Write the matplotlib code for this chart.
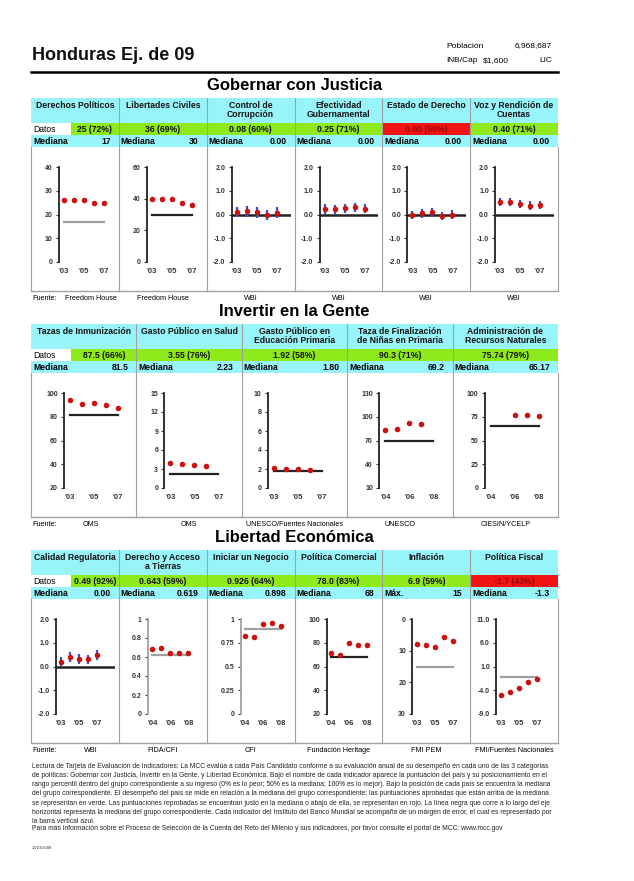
# coding:utf8
import matplotlib
matplotlib.use("Agg")
import matplotlib.pyplot as plt
from matplotlib.patches import Rectangle
from matplotlib.lines import Line2D

plt.rcParams['font.family'] = ['Liberation Sans', 'DejaVu Sans']

# ==============================
# Données : en-tête
# ==============================
pais = "Honduras Ej. de 09"
poblacion = "6,968,687"
inb_cap = "$1,600"
grupo = "LIC"

# ==============================
# Données : Gobernar con Justicia
# ==============================
gj_titulos = ["Derechos Políticos", "Libertades Civiles", "Control de\nCorrupción",
              "Efectividad\nGubernamental", "Estado de Derecho", "Voz y Rendición de\nCuentas"]
gj_datos = ["25 (72%)", "36 (69%)", "0.08 (60%)", "0.25 (71%)", "0.00 (50%)", "0.40 (71%)"]
gj_aprobado = [True, True, True, True, False, True]
gj_med_label = ["Mediana"] * 6
gj_med_txt = ["17", "30", "0.00", "0.00", "0.00", "0.00"]
gj_fuentes = ["Freedom House", "Freedom House", "WBI", "WBI", "WBI", "WBI"]
gj_anios = [[2003, 2004, 2005, 2006, 2007]] * 6
gj_valores = [[26, 26, 26, 25, 25],
              [40, 40, 40, 37, 36],
              [0.10, 0.13, 0.09, -0.02, 0.08],
              [0.23, 0.22, 0.26, 0.30, 0.25],
              [-0.02, 0.05, 0.09, -0.06, 0.00],
              [0.53, 0.53, 0.45, 0.37, 0.40]]
gj_error = [0, 0, 0.22, 0.2, 0.18, 0.18]
gj_mediana = [17, 30, 0, 0, 0, 0]
gj_ylim = [(0, 40), (0, 60), (-2, 2), (-2, 2), (-2, 2), (-2, 2)]
gj_yticks = [[0, 10, 20, 30, 40], [0, 20, 40, 60]] + [[-2, -1, 0, 1, 2]] * 4
gj_xticks = [[2003, 2005, 2007]] * 6

# ==============================
# Données : Invertir en la Gente
# ==============================
ig_titulos = ["Tazas de Inmunización", "Gasto Público en Salud", "Gasto Público en\nEducación Primaria",
              "Taza de Finalización\nde Niñas en Primaria", "Administración de\nRecursos Naturales"]
ig_datos = ["87.5 (66%)", "3.55 (76%)", "1.92 (58%)", "90.3 (71%)", "75.74 (79%)"]
ig_aprobado = [True, True, True, True, True]
ig_med_label = ["Mediana"] * 5
ig_med_txt = ["81.5", "2.23", "1.80", "69.2", "65.17"]
ig_fuentes = ["OMS", "OMS", "UNESCO/Fuentes Nacionales", "UNESCO", "CIESIN/YCELP"]
ig_anios = [[2003, 2004, 2005, 2006, 2007],
            [2003, 2004, 2005, 2006],
            [2003, 2004, 2005, 2006],
            [2004, 2005, 2006, 2007],
            [2006, 2007, 2008]]
ig_valores = [[94, 91, 92, 89.5, 87.5],
              [4.0, 3.85, 3.7, 3.55],
              [2.1, 2.0, 2.0, 1.92],
              [83, 84.5, 92, 90.3],
              [77, 77, 75.74]]
ig_error = [0, 0, 0, 0, 0]
ig_mediana = [81.5, 2.23, 1.80, 69.2, 65.17]
ig_ylim = [(20, 100), (0, 15), (0, 10), (10, 130), (0, 100)]
ig_yticks = [[20, 40, 60, 80, 100], [0, 3, 6, 9, 12, 15], [0, 2, 4, 6, 8, 10],
             [10, 40, 70, 100, 130], [0, 25, 50, 75, 100]]
ig_xticks = [[2003, 2005, 2007]] * 3 + [[2004, 2006, 2008]] * 2

# ==============================
# Données : Libertad Económica
# ==============================
le_titulos = ["Calidad Regulatoria", "Derecho y Acceso\na Tierras", "Iniciar un Negocio",
              "Política Comercial", "Inflación", "Política Fiscal"]
le_datos = ["0.49 (92%)", "0.643 (59%)", "0.926 (64%)", "78.0 (83%)", "6.9 (59%)", "-1.7 (43%)"]
le_aprobado = [True, True, True, True, True, False]
le_med_label = ["Mediana", "Mediana", "Mediana", "Mediana", "Máx.", "Mediana"]
le_med_txt = ["0.00", "0.619", "0.898", "68", "15", "-1.3"]
le_fuentes = ["WBI", "FIDA/CFI", "CFI", "Fundación Heritage", "FMI PEM", "FMI/Fuentes Nacionales"]
le_anios = [[2003, 2004, 2005, 2006, 2007],
            [2004, 2005, 2006, 2007, 2008],
            [2004, 2005, 2006, 2007, 2008],
            [2004, 2005, 2006, 2007, 2008],
            [2003, 2004, 2005, 2006, 2007],
            [2003, 2004, 2005, 2006, 2007]]
le_valores = [[0.2, 0.39, 0.32, 0.3, 0.49],
              [0.68, 0.70, 0.643, 0.643, 0.643],
              [0.82, 0.815, 0.945, 0.955, 0.926],
              [71, 69.5, 79.5, 78, 78],
              [7.9, 8.2, 8.9, 5.8, 6.9],
              [-4.9, -4.3, -3.5, -2.3, -1.7]]
le_error = [0.2, 0, 0, 0, 0, 0]
le_mediana = [0, 0.619, 0.898, 68, 15, -1.3]
le_ylim = [(-2, 2), (0, 1), (0, 1), (20, 100), (30, 0), (-9, 11)]
le_yticks = [[-2, -1, 0, 1, 2], [0, 0.2, 0.4, 0.6, 0.8, 1], [0, 0.25, 0.5, 0.75, 1],
             [20, 40, 60, 80, 100], [0, 10, 20, 30], [-9, -4, 1, 6, 11]]
le_xticks = [[2003, 2005, 2007]] + [[2004, 2006, 2008]] * 3 + [[2003, 2005, 2007]] * 2

# ==============================
# Styles
# ==============================
CYAN = '#97F4FA'
VERT = '#8FEA1C'
ROUGE = '#F01414'
GRIS = '#A0A0A0'
NOIR = '#222222'
POINT = '#CC1111'
BLEU = '#3A4FC8'

gj_fmt = ['{:.0f}', '{:.0f}'] + ['{:.1f}'] * 4
ig_fmt = ['{:.0f}'] * 5
le_fmt = ['{:.1f}', '{:g}', '{:g}', '{:.0f}', '{:.0f}', '{:.1f}']
gj_wbi = [False, False, True, True, True, True]
ig_wbi = [False] * 5
le_wbi = [True, False, False, False, False, False]
gj_col_med = [GRIS, NOIR, NOIR, NOIR, NOIR, NOIR]
ig_col_med = [NOIR] * 5
le_col_med = [NOIR, GRIS, GRIS, NOIR, GRIS, GRIS]
gj_col_axe = [NOIR] * 6
ig_col_axe = [NOIR] * 5
le_col_axe = [NOIR, GRIS, GRIS, NOIR, NOIR, NOIR]
gj_decal = [28, 28, 25, 25, 25, 25]
ig_decal = [33, 28, 26, 32, 32]
le_decal = [25, 29, 34, 32, 30, 26]

W, H = 634, 881
fig = plt.figure(figsize=(W / 100, H / 100), dpi=100)


def fx(x):
    return x / W


def fy(y):
    return 1 - y / H


def rect(x, y, w, h, color):
    fig.patches.append(Rectangle((fx(x), fy(y + h)), w / W, h / H, transform=fig.transFigure,
                                 facecolor=color, edgecolor='none', zorder=0))


def ligne(x0, y0, x1, y1, color, lw):
    fig.lines.append(Line2D([fx(x0), fx(x1)], [fy(y0), fy(y1)], transform=fig.transFigure,
                            color=color, linewidth=lw))


def texte(x, y, s, size, ha='left', va='center', weight='normal', color='black'):
    fig.text(fx(x), fy(y), s, fontsize=size, ha=ha, va=va, fontweight=weight, color=color,
             linespacing=1.05)


# ==============================
# Fonction pour dessiner une section
# ==============================
def section(y_titre, titre, titulos, datos, aprobado, med_label, med_txt, fuentes,
            anios, valores, error, mediana, ylim, yticks, xticks, fmt, wbi,
            col_med, col_axe, decal, pxyr):
    n = len(titulos)
    xg, xd = 31, 558
    cw = (xd - xg) / n
    yh = y_titre + 12
    ydat = yh + 25
    ymed = ydat + 12
    ygr = ymed + 12
    ybas = ygr + 144

    texte((xg + xd) / 2, y_titre, titre, 12, ha='center', weight='bold')

    for i in range(n):
        x = xg + i * cw
        rect(x, yh, cw, 25, CYAN)
        texte(x + cw / 2, yh + 2.5, titulos[i], 6.2, ha='center', va='top', weight='bold',
              color='#111111')
        couleur = VERT if aprobado[i] else ROUGE
        col_txt = '#111111' if aprobado[i] else '#9A0A0A'
        if i == 0:
            rect(x, ydat, 40, 12, 'white')
            rect(x + 40, ydat, cw - 40, 12, couleur)
            texte(x + 2, ydat + 6, "Datos", 6.2)
            texte(x + 40 + (cw - 40) / 2, ydat + 6, datos[i], 6.2, ha='center', weight='bold',
                  color=col_txt)
        else:
            rect(x, ydat, cw, 12, couleur)
            texte(x + cw / 2, ydat + 6, datos[i], 6.2, ha='center', weight='bold', color=col_txt)
        rect(x, ymed, cw, 12, CYAN)
        texte(x + 2, ymed + 6, med_label[i], 6.2, weight='bold')
        texte(x + cw - 8, ymed + 6, med_txt[i], 6.2, ha='right', weight='bold')

        # séparateurs
        if i > 0:
            ligne(x, yh, x, ybas, GRIS, 0.8)

        # source
        if i == 0:
            texte(x + 1, ybas + 7, "Fuente:", 5.2)
            texte(x + 60, ybas + 7, fuentes[i], 5.2, ha='center')
        else:
            texte(x + cw / 2, ybas + 7, fuentes[i], 5.2, ha='center')

        # graphique
        gauche = x + decal[i]
        largeur = cw - decal[i] - 4
        ax = fig.add_axes([fx(gauche), fy(ygr + 20 + 95), largeur / W, 95 / H])
        x0 = anios[i][0] if xticks[i][0] > anios[i][0] else xticks[i][0]
        xa = x0 - 0.5
        xb = xa + largeur / pxyr
        ax.set_xlim(xa, xb)
        ax.set_ylim(*ylim[i])
        if wbi[i]:
            ax.plot([xa, xb], [mediana[i], mediana[i]], color=col_med[i], lw=1.8, zorder=1)
        else:
            ax.plot([xticks[i][0], xticks[i][-1]], [mediana[i], mediana[i]], color=col_med[i],
                    lw=1.6, zorder=1)
        if error[i] > 0:
            ax.vlines(anios[i], [v - error[i] for v in valores[i]],
                      [v + error[i] for v in valores[i]], color=BLEU, lw=1.6, zorder=2)
        ax.plot(anios[i], valores[i], 'o', color=POINT, markersize=4, markeredgewidth=0,
                zorder=3)
        ax.set_yticks(yticks[i])
        ax.set_yticklabels([fmt[i].format(v) for v in yticks[i]])
        ax.set_xticks(xticks[i])
        ax.set_xticklabels(["'" + str(a)[2:] for a in xticks[i]])
        for cote in ['top', 'right', 'bottom']:
            ax.spines[cote].set_visible(False)
        ax.spines['left'].set_color(col_axe[i])
        ax.spines['left'].set_linewidth(1.3)
        ax.tick_params(axis='y', length=2, width=0.8, pad=2.5, labelsize=5, colors='#333333')
        ax.tick_params(axis='x', length=0, pad=4.5, labelsize=5.5, colors='#333333')
        for t in ax.get_yticklabels() + ax.get_xticklabels():
            t.set_fontweight('bold')
        ax.patch.set_alpha(0)

    # bordures de la zone graphique
    ligne(xg, ygr, xg, ybas, GRIS, 0.8)
    ligne(xd, ygr, xd, ybas, GRIS, 0.8)
    ligne(xg, ybas, xd, ybas, GRIS, 1.0)


# ==============================
# En-tête
# ==============================
texte(32, 56, pais, 13, weight='bold', color='#111111')
texte(446, 46, "Población", 6)
texte(552, 46, poblacion, 6, ha='right')
texte(446, 61, "INB/Cap", 6)
texte(483, 61, inb_cap, 6)
texte(552, 61, grupo, 6, ha='right')
ligne(31, 71.5, 558, 71.5, 'black', 1.8)

# ==============================
# Sections
# ==============================
section(86, "Gobernar con Justicia", gj_titulos, gj_datos, gj_aprobado, gj_med_label, gj_med_txt,
        gj_fuentes, gj_anios, gj_valores, gj_error, gj_mediana, gj_ylim, gj_yticks, gj_xticks,
        gj_fmt, gj_wbi, gj_col_med, gj_col_axe, gj_decal, 10)
section(312, "Invertir en la Gente", ig_titulos, ig_datos, ig_aprobado, ig_med_label, ig_med_txt,
        ig_fuentes, ig_anios, ig_valores, ig_error, ig_mediana, ig_ylim, ig_yticks, ig_xticks,
        ig_fmt, ig_wbi, ig_col_med, ig_col_axe, ig_decal, 12)
section(538, "Libertad Económica", le_titulos, le_datos, le_aprobado, le_med_label, le_med_txt,
        le_fuentes, le_anios, le_valores, le_error, le_mediana, le_ylim, le_yticks, le_xticks,
        le_fmt, le_wbi, le_col_med, le_col_axe, le_decal, 9)

# ==============================
# Pied de page
# ==============================
lignes_pied = [
    "Lectura de Tarjeta de Evaluación de Indicadores: La MCC evalúa a cada País Candidato conforme a su evaluación anual de su desempeño en cada uno de las 3 categorías",
    "de políticas: Gobernar con Justicia, Invertir en la Gente, y Libertad Económica. Bajo el nombre de cada indicador aparece la puntuación del país y su posicionamiento en el",
    "rango percentil dentro del grupo correspondiente a su ingreso (0% es lo peor; 50% es la mediana; 100% es lo mejor). Bajo la posición de cada país se encuentra la mediana",
    "del grupo correspondiente. El desempeño del país se mide en relación a la mediana del grupo correspondiente; las puntuaciones aprobadas que están arriba de la mediana",
    "se representan en verde. Las puntuaciones reprobadas se encuentran justo en la mediana o abajo de ella, se representan en rojo. La línea negra que corre a lo largo del eje",
    "horizontal representa la mediana del grupo correspondiente. Cada indicador del Instituto del Banco Mundial se acompaña de un márgen de error, el cual es representado por",
    "la barra vertical azul.",
]
for k, s in enumerate(lignes_pied):
    texte(32, 766 + k * 9.3, s, 4.9, color='#222222')
texte(32, 829, "Para más información sobre el Proceso de Selección de la Cuenta del Reto del Milenio y sus indicadores, por favor consulte el portal de MCC: www.mcc.gov",
      4.9, color='#222222')
texte(32, 848, "10/23/2008", 3, color='#333333')

fig.savefig("out.png", dpi=100, facecolor='white')
